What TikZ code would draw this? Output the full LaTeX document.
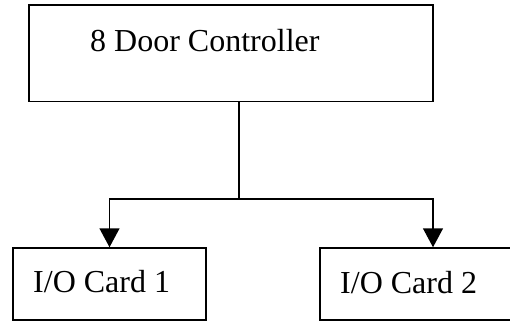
\documentclass[tikz,border=0pt]{standalone}
\usepackage{fontspec}
\setmainfont{Liberation Serif}
\usetikzlibrary{arrows.meta}
\begin{document}
\begin{tikzpicture}[x=1pt,y=-1pt,
  box/.style={draw, line width=1.5pt, inner sep=0pt, minimum width=#1},
  lbl/.style={anchor=base west, inner sep=0pt, font=\fontsize{32}{38}\selectfont},
  conn/.style={line width=1.5pt},
  arr/.style={conn, -{Triangle[width=20pt,length=19pt]}}]
\useasboundingbox (0,0) rectangle (510,323);
\clip (0,0) rectangle (510,323);
\node[box=404pt, minimum height=96.5pt] (top) at (231,53.25) {};
\node[box=193pt, minimum height=72pt] (card1) at (109.5,284) {};
\node[box=226pt, minimum height=72pt] (card2) at (433,284) {};
\node[lbl] (toptext) at (90,51.5) {8 Door Controller};
\node[lbl] (c1text) at (33,292) {I/O Card 1};
\node[lbl] (c2text) at (340,293) {I/O Card 2};
\coordinate (j) at (239,199);
\draw[conn] (top.south -| j) -- (j);
\draw[arr] (j) -| (card1.north);
\draw[arr] (j) -| (card2.north);
\end{tikzpicture}
\end{document}
